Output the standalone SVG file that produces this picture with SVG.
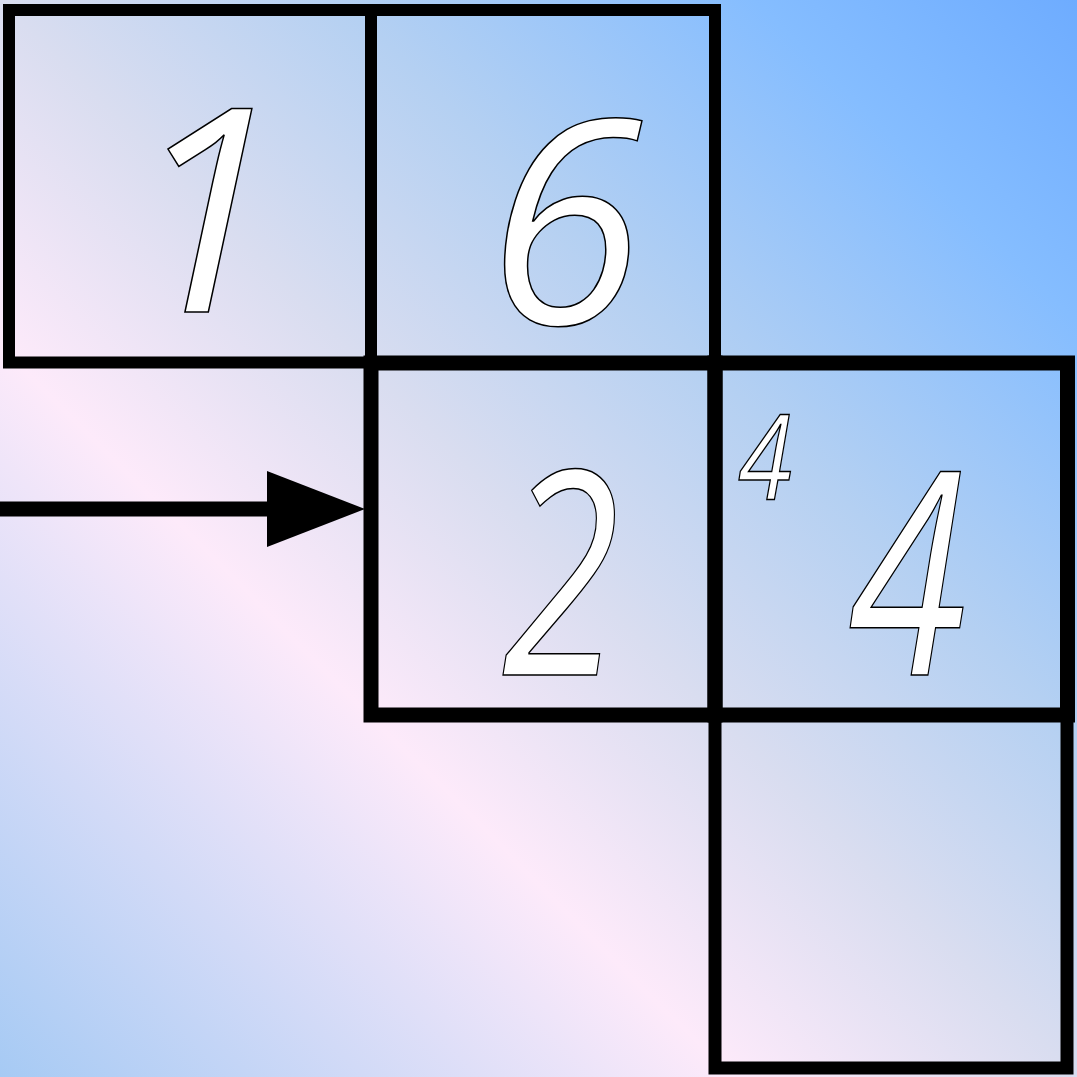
<svg xmlns="http://www.w3.org/2000/svg" width="1077" height="1077" viewBox="0 0 1077 1077">
  <defs>
    <linearGradient id="bg" gradientUnits="userSpaceOnUse" x1="0" y1="1077" x2="1077" y2="0">
      <stop offset="0" stop-color="#a6caf4"/>
      <stop offset="0.34" stop-color="#fdeafa"/>
      <stop offset="0.5" stop-color="#d9ddf0"/>
      <stop offset="0.66" stop-color="#b4d0f2"/>
      <stop offset="0.85" stop-color="#85bdff"/>
      <stop offset="1" stop-color="#6eacff"/>
    </linearGradient>
    <marker id="arrow" markerUnits="userSpaceOnUse" markerWidth="98" markerHeight="76" refX="0" refY="38" orient="auto">
      <path d="M0,0 L98,38 L0,76 Z" fill="#000"/>
    </marker>
  </defs>
  <style>
    .box { fill: none; stroke: #000; }
    .lbl { font-family: "Open Sans", "Liberation Sans", sans-serif; font-style: italic; fill: #fff; stroke: #000; stroke-width: 1.5; text-anchor: middle; }
    .big { font-size: 285px; }
    .small { font-size: 119px; }
    .conn { stroke: #000; stroke-width: 15; fill: none; }
  </style>
  <rect x="0" y="0" width="1077" height="1077" fill="url(#bg)"/>
  <g id="node1">
    <rect class="box" x="9" y="10" width="362" height="352.5" stroke-width="12"/>
    <text class="lbl big" x="205" y="312">1</text>
  </g>
  <g id="node6">
    <rect class="box" x="371" y="10" width="344" height="352.5" stroke-width="12"/>
    <text class="lbl big" x="565" y="324">6</text>
  </g>
  <g id="node2">
    <rect class="box" x="371" y="363" width="344" height="352" stroke-width="15"/>
    <text class="lbl big" transform="translate(561,0) scale(0.75,1)" x="0" y="675">2</text>
  </g>
  <g id="node4">
    <rect class="box" x="715" y="363" width="352.5" height="352" stroke-width="15"/>
    <text class="lbl small" transform="translate(765,0) scale(0.82,1)" x="0" y="500">4</text>
    <text class="lbl big" transform="translate(907.5,0) scale(0.75,1)" x="0" y="675">4</text>
  </g>
  <g id="node5">
    <rect class="box" x="715" y="715" width="352" height="353" stroke-width="13"/>
  </g>
  <g id="connectors">
    <line class="conn" x1="0" y1="509" x2="267" y2="509" marker-end="url(#arrow)"/>
  </g>
</svg>
